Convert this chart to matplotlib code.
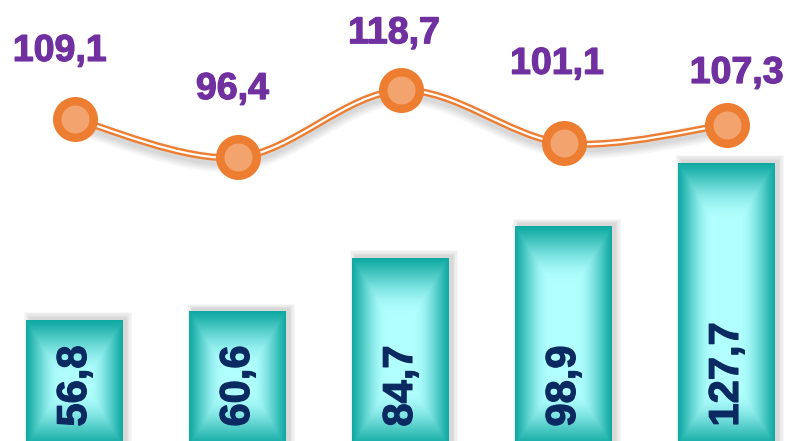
import matplotlib.pyplot as plt
import numpy as np
from matplotlib.patches import Rectangle, PathPatch
from matplotlib.path import Path
from matplotlib.transforms import ScaledTranslation
import matplotlib.patheffects as pe
import matplotlib.colors as mcolors

# data
positions = [0, 1, 2, 3, 4]
bar_values = [56.8, 60.6, 84.7, 98.9, 127.7]
bar_labels = ["56,8", "60,6", "84,7", "98,9", "127,7"]
line_values = [109.1, 96.4, 118.7, 101.1, 107.3]
line_labels = ["109,1", "96,4", "118,7", "101,1", "107,3"]

# label offsets (points) for the purple labels, as placed in the original
label_offsets = [(-11, 42), (-4, 42), (-5, 34), (-5, 50), (7, 30)]

plt.rcParams['font.family'] = ['Liberation Sans', 'DejaVu Sans']

fig = plt.figure(figsize=(7.9, 4.41), dpi=100)
ax = fig.add_axes([0, 0, 1, 1])
ax.set_xlim(-0.46, 4.387)
ax.set_ylim(2.26, 201.4)
ax.axis('off')

bar_w = 0.595
sx = 790 / (4.387 + 0.46)          # px per x unit
sy = 441 / (201.4 - 2.26)          # px per y unit

edge_c = np.array(mcolors.to_rgb('#0FA9A2'))
mid_c = np.array(mcolors.to_rgb('#B2FFFF'))

for x, h, lab in zip(positions, bar_values, bar_labels):
    x0 = x - bar_w / 2
    # soft shadow
    for k in range(5):
        e = 0.5 + k * 1.2
        ax.add_patch(Rectangle((x0 - e / sx + 3 / sx, 0), bar_w + 2 * e / sx,
                               h + (e + 3) / sy, color='black', alpha=0.03,
                               lw=0, zorder=1))
    # pillow gradient
    wp, hp = int(bar_w * sx), int(h * sy)
    xx, yy = np.meshgrid(np.arange(wp) + 0.5, np.arange(hp) + 0.5)
    dx = np.minimum(xx, wp - xx) / 36
    dy = np.minimum(yy, hp - yy) / 58
    t = np.clip(np.minimum(dx, dy), 0, 1)
    t = np.sin(t * np.pi / 2) ** 1.2
    img = edge_c + (mid_c - edge_c) * t[..., None]
    ax.imshow(img, extent=[x0, x0 + bar_w, 0, h], origin='upper',
              aspect='auto', interpolation='bilinear', zorder=2)
    ax.annotate(lab, (x, 0), xytext=(0, 14), textcoords='offset points',
                rotation=90, ha='center', va='bottom', fontsize=30,
                fontweight='bold', color='#0B2A62', zorder=3,
                annotation_clip=False,
                path_effects=[pe.withStroke(linewidth=0.9, foreground='#0B2A62')])

ax.set_xlim(-0.46, 4.387)
ax.set_ylim(2.26, 201.4)

ax2 = ax.twinx()
ax2.set_ylim(1.85, 148.85)
ax2.axis('off')

# smooth curve through the points (Catmull-Rom as cubic Bezier)
pts = np.column_stack([positions, line_values]).astype(float)
ext = np.vstack([pts[0], pts, pts[-1]])
verts = [pts[0]]
codes = [Path.MOVETO]
for i in range(len(pts) - 1):
    p0, p1, p2, p3 = ext[i], ext[i + 1], ext[i + 2], ext[i + 3]
    verts += [p1 + (p2 - p0) / 6, p2 - (p3 - p1) / 6, p2]
    codes += [Path.CURVE4] * 3
path = Path(verts, codes)

shadow_tr = ax2.transData + ScaledTranslation(0, -5 / 100, fig.dpi_scale_trans)
for k in range(5):
    ax2.add_patch(PathPatch(path, fill=False, ec='black', lw=4 + 2.5 * k,
                            alpha=0.03, transform=shadow_tr, zorder=3))
ax2.add_patch(PathPatch(path, fill=False, ec='#ED7D31', lw=5, zorder=4))
ax2.add_patch(PathPatch(path, fill=False, ec='white', lw=1.6, zorder=5))

ax2.plot(positions, line_values, 'o', ms=26.3, mfc='#F2A36E', mec='#ED7D31',
         mew=6.1, zorder=6)

for x, v, lab, off in zip(positions, line_values, line_labels, label_offsets):
    ax2.annotate(lab, (x, v), xytext=off, textcoords='offset points',
                 ha='center', va='baseline', fontsize=27, fontweight='bold',
                 color='#7030A0', zorder=7,
                 path_effects=[pe.withStroke(linewidth=0.9, foreground='#7030A0')])

fig.savefig('out.png', dpi=100)
